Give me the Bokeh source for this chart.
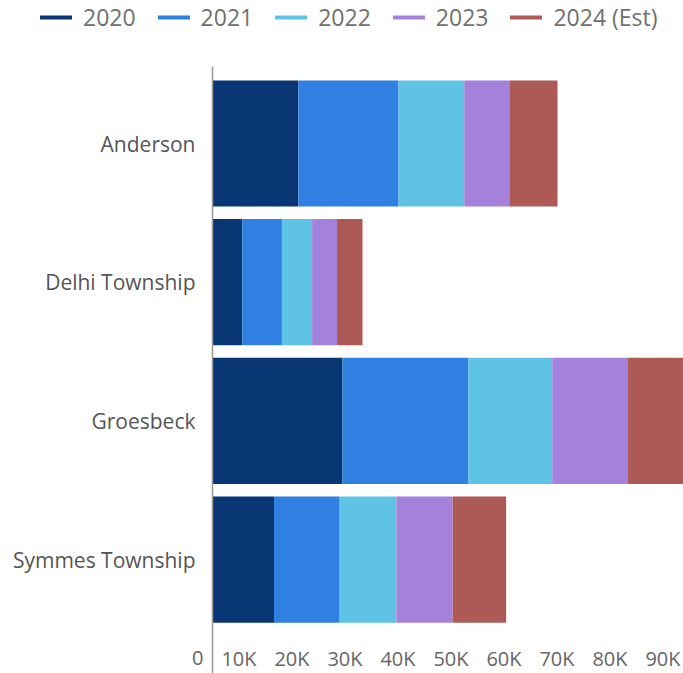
from bokeh.plotting import figure
from bokeh.models import (ColumnDataSource, Range1d, FixedTicker,
                          Legend, LegendItem)
from bokeh.core.properties import value
from bokeh.embed import file_html
from bokeh.resources import INLINE

# ---------------- data ----------------
categories = ["Anderson", "Delhi Township", "Groesbeck", "Symmes Township"]
years = ["2020", "2021", "2022", "2023", "2024 (Est)"]
v2020 = [16200, 5600, 24500, 11600]
v2021 = [18900, 7500, 23800, 12400]
v2022 = [12400, 5700, 15800, 10700]
v2023 = [8500, 4700, 14300, 10600]
v2024 = [9100, 4800, 15000, 10100]
tick_values = [0, 10000, 20000, 30000, 40000, 50000, 60000, 70000, 80000, 90000]
tick_labels = ["0", "10K", "20K", "30K", "40K", "50K", "60K", "70K", "80K", "90K"]
colors = ["#073672", "#2F80E1", "#5EC3E5", "#A481DA", "#AD5A57"]

# ---------------- layout constants ----------------
W, H = 683, 673
ZERO_PX = 212                 # pixel of value 0
PX_PER_UNIT = 0.0053          # pixels per unit of value
PITCH = 138.7                 # pixels per category
FIRST_CENTER_PX = 143
LINE_TOP_PX = 66
x_start = -ZERO_PX / PX_PER_UNIT
x_end = (W - ZERO_PX) / PX_PER_UNIT
y_top = -FIRST_CENTER_PX / PITCH
y_bottom = y_top + H / PITCH
y_ticklabels = y_top + 657.5 / PITCH
y_line_top = y_top + LINE_TOP_PX / PITCH

cat_index = list(range(len(categories)))
keys = ["y2020", "y2021", "y2022", "y2023", "y2024"]
source = ColumnDataSource(dict(idx=cat_index, y2020=v2020, y2021=v2021,
                               y2022=v2022, y2023=v2023, y2024=v2024))

p = figure(width=W, height=H, output_backend="svg", toolbar_location=None,
           x_range=Range1d(x_start, x_end),
           y_range=Range1d(y_bottom, y_top),
           min_border_left=0, min_border_right=0,
           min_border_top=0, min_border_bottom=0)

p.hbar_stack(keys, y="idx", height=0.91, color=colors, line_color=None,
             source=source)

# value axis line
p.segment(x0=[0], y0=[y_line_top], x1=[0], y1=[y_bottom],
          line_color="#9a9a9a", line_width=1.5)

# value axis labels, right-aligned just left of each tick
p.text(x=tick_values, y=[y_ticklabels] * len(tick_values), text=tick_labels,
       text_align="right", text_baseline="middle", x_offset=-9,
       text_font=value("Open Sans"), text_font_size=value("20px"),
       text_color="#666666")
p.xaxis.visible = False

p.yaxis.ticker = FixedTicker(ticks=cat_index)
p.yaxis.major_label_overrides = {i: c for i, c in zip(cat_index, categories)}
p.yaxis.axis_line_color = None
p.yaxis.major_tick_line_color = None
p.yaxis.minor_tick_line_color = None
p.yaxis.major_tick_out = 0
p.yaxis.major_tick_in = 0
p.yaxis.major_label_standoff = -195
p.yaxis.major_label_text_font = "Open Sans"
p.yaxis.major_label_text_font_size = "21px"
p.yaxis.major_label_text_color = "#555555"

p.xgrid.visible = False
p.ygrid.visible = False
p.outline_line_color = None

# legend with line symbols
nan = float("nan")
leg_r = [p.line(x=[nan, nan], y=[nan, nan], line_color=c, line_width=4,
                line_cap="round") for c in colors]
legend = Legend(items=[LegendItem(label=value(y), renderers=[r])
                       for y, r in zip(years, leg_r)],
                orientation="horizontal", location=(40, H - 33),
                glyph_width=32, glyph_height=20, label_standoff=11, spacing=22,
                padding=0, margin=0, border_line_color=None,
                background_fill_alpha=0,
                label_text_font="Open Sans", label_text_font_size="23px",
                label_text_color="#707070")
p.add_layout(legend)

open("out.html", "w").write(file_html(p, INLINE))
